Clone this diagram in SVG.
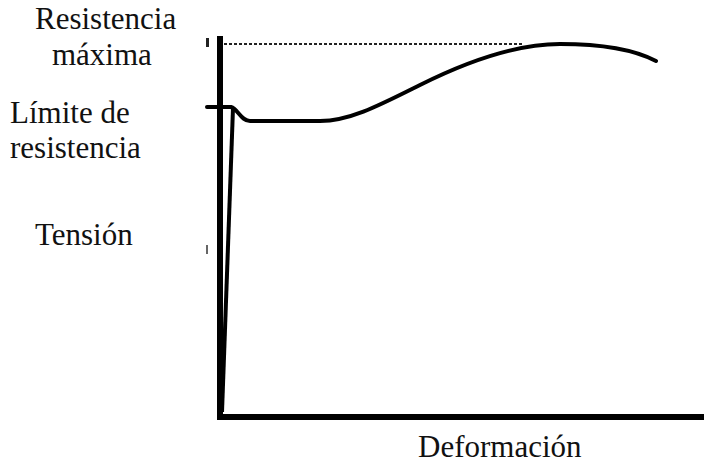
<svg xmlns="http://www.w3.org/2000/svg" width="704" height="464" viewBox="0 0 704 464">
<style>
.t{font-family:'Liberation Serif','Times New Roman','DejaVu Serif',serif;font-size:31px;fill:#111}
.ax{stroke:#000;stroke-width:6;fill:none}
.cv{stroke:#000;stroke-width:4;fill:none;stroke-linecap:round;stroke-linejoin:round}
</style>
<rect width="704" height="464" fill="#fff"/>
<g id="axes">
<line class="ax" x1="220" y1="36" x2="220" y2="420"/>
<line class="ax" x1="217" y1="417" x2="704" y2="417"/>
<rect x="206" y="38" width="3" height="9" fill="#222"/>
<rect x="206" y="245" width="2" height="9" fill="#666"/>
</g>
<g id="connectors">
<line x1="224" y1="44" x2="522" y2="44" stroke="#222" stroke-width="2" stroke-dasharray="3,2"/>
<line x1="222" y1="412" x2="233" y2="108" stroke="#000" stroke-width="4"/>
<path class="cv" d="M207 107 L231 107 C238 109 241 121 250 121 L320 121 C350 121 380 105 420 85 C470 60 520 44 560 44 C600 44 635 50 656 61"/>
</g>
<g id="labels" font-family="Liberation Serif, serif">
<text class="t" x="35" y="29">Resistencia</text>
<text class="t" x="52" y="65">máxima</text>
<text class="t" x="10" y="123">Límite de</text>
<text class="t" x="10" y="158">resistencia</text>
<text class="t" x="35" y="245">Tensión</text>
<text class="t" x="418" y="457">Deformación</text>
</g>
</svg>
